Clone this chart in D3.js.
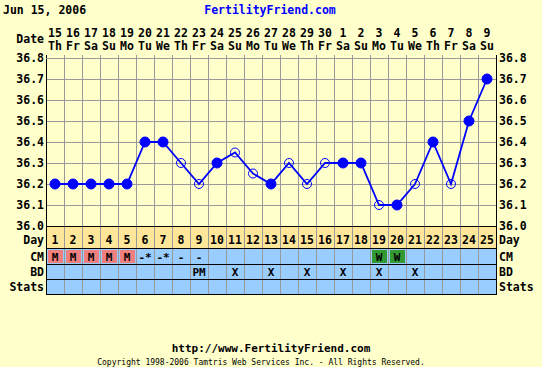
<!DOCTYPE html>
<html>
<head>
<meta charset="utf-8">
<script src="https://cdn.jsdelivr.net/npm/d3@7"></script>
<style>
  body { margin: 0; background: #ffffcc; }
  svg { display: block; }
  text { font-family: "DejaVu Sans Mono", monospace; font-weight: bold; fill: #000; }
</style>
</head>
<body>
<svg id="chart" width="542" height="367"></svg>
<script>
// chart data
var cycleDays = d3.range(1, 26);
var dateNums = [15,16,17,18,19,20,21,22,23,24,25,26,27,28,29,30,1,2,3,4,5,6,7,8,9];
var weekdays = ["Th","Fr","Sa","Su","Mo","Tu","We","Th","Fr","Sa","Su","Mo","Tu","We","Th","Fr","Sa","Su","Mo","Tu","We","Th","Fr","Sa","Su"];
var temps = [36.2,36.2,36.2,36.2,36.2,36.4,36.4,36.3,36.2,36.3,36.35,36.25,36.2,36.3,36.2,36.3,36.3,36.3,36.1,36.1,36.2,36.4,36.2,36.5,36.7];
var filled = [1,1,1,1,1,1,1,0,0,1,0,0,1,0,0,0,1,1,0,1,0,1,0,1,1];
var cmMarks = ["M","M","M","M","M","-*","-*","-","-","","","","","","","","","","W","W","","","","",""];
var bdMarks = ["","","","","","","","","PM","","X","","X","","X","","X","","X","","X","","","",""];
var tempTicks = [36.0,36.1,36.2,36.3,36.4,36.5,36.6,36.7,36.8];

var svg = d3.select("#chart");
var plotLeft = 46, plotRight = 496, plotTop = 58, tBottom = 226;
var rows = [
  {name: "Day", y0: 226, y1: 248, fill: "#ffe699"},
  {name: "CM", y0: 248, y1: 264, fill: "#99ccff"},
  {name: "BD", y0: 264, y1: 279, fill: "#99ccff"},
  {name: "Stats", y0: 279, y1: 294, fill: "#99ccff"}
];

var x = d3.scaleBand().domain(cycleDays).range([plotLeft, plotRight]);
var y = d3.scaleLinear().domain([36.0, 36.8]).range([tBottom, plotTop]);
var cx = function(d) { return x(d) + x.bandwidth() / 2; };

// header
svg.append("text").attr("x", 3).attr("y", 14).style("font-size", "11.5px").text("Jun 15, 2006");
svg.append("text").attr("x", 270).attr("y", 14).attr("text-anchor", "middle")
  .style("font-size", "11.5px").style("fill", "#0000ff").text("FertilityFriend.com");

// date row
svg.append("text").attr("x", 44).attr("y", 43).attr("text-anchor", "end").style("font-size", "11.5px").text("Date");
svg.selectAll(".dnum").data(cycleDays).enter().append("text")
  .attr("x", cx).attr("y", 37).attr("text-anchor", "middle").style("font-size", "11.5px")
  .text(function(d, i) { return dateNums[i]; });
svg.selectAll(".wday").data(cycleDays).enter().append("text")
  .attr("x", cx).attr("y", 50).attr("text-anchor", "middle").style("font-size", "11.5px")
  .text(function(d, i) { return weekdays[i]; });

// plot background + grid
svg.append("rect").attr("x", plotLeft).attr("y", plotTop).attr("width", plotRight - plotLeft).attr("height", tBottom - plotTop).attr("fill", "#ffffcc");
rows.forEach(function(r) {
  svg.append("rect").attr("x", plotLeft).attr("y", r.y0).attr("width", plotRight - plotLeft).attr("height", r.y1 - r.y0).attr("fill", r.fill);
});

var grid = svg.append("g").attr("stroke", "#999").attr("stroke-width", 1);
grid.selectAll(".v").data(cycleDays.slice(1)).enter().append("line")
  .attr("x1", function(d) { return x(d) + 0.5; }).attr("x2", function(d) { return x(d) + 0.5; })
  .attr("y1", plotTop - 3).attr("y2", 294);
grid.selectAll(".h").data(tempTicks.slice(1)).enter().append("line")
  .attr("x1", plotLeft).attr("x2", plotRight)
  .attr("y1", function(d) { return y(d) + 0.5; }).attr("y2", function(d) { return y(d) + 0.5; });

// pink/green CM boxes
svg.selectAll(".cmbox").data(cycleDays.filter(function(d, i) { return cmMarks[i] == "M" || cmMarks[i] == "W"; }))
  .enter().append("rect")
  .attr("x", function(d) { return x(d) + 2; }).attr("y", 250)
  .attr("width", x.bandwidth() - 3).attr("height", 13)
  .attr("fill", function(d) { return cmMarks[d - 1] == "M" ? "#f08080" : "#339933"; });

// black borders
var bl = svg.append("g").attr("stroke", "#000").attr("stroke-width", 1);
[tBottom, 248, 264, 279, 294].forEach(function(yy) {
  bl.append("line").attr("x1", plotLeft).attr("x2", plotRight + 1).attr("y1", yy + 0.5).attr("y2", yy + 0.5);
});
[plotLeft, plotRight].forEach(function(xx) {
  bl.append("line").attr("x1", xx + 0.5).attr("x2", xx + 0.5).attr("y1", plotTop - 3).attr("y2", 295);
});
svg.append("line").attr("x1", plotLeft).attr("x2", plotRight).attr("y1", plotTop + 0.5).attr("y2", plotTop + 0.5).attr("stroke", "#999");

// temperature labels both sides
svg.append("g").attr("transform", "translate(" + (plotLeft - 2) + ",0)")
  .call(d3.axisLeft(y).tickValues(tempTicks).tickFormat(d3.format(".1f")).tickSize(0).tickPadding(0))
  .call(function(g) { g.select(".domain").remove(); g.selectAll("text").style("font-size", "11.5px").attr("fill", "#000").attr("dy", "0.3em"); });
svg.append("g").attr("transform", "translate(" + (plotRight + 3) + ",0)")
  .call(d3.axisRight(y).tickValues(tempTicks).tickFormat(d3.format(".1f")).tickSize(0).tickPadding(0))
  .call(function(g) { g.select(".domain").remove(); g.selectAll("text").style("font-size", "11.5px").attr("fill", "#000").attr("dy", "0.3em"); });

// row labels
var baselines = {Day: 244, CM: 261, BD: 276, Stats: 291};
rows.forEach(function(r) {
  svg.append("text").attr("x", 44).attr("y", baselines[r.name]).attr("text-anchor", "end").style("font-size", "11.5px").text(r.name);
  svg.append("text").attr("x", 499).attr("y", baselines[r.name]).style("font-size", "11.5px").text(r.name);
});

// cycle day numbers
svg.selectAll(".cday").data(cycleDays).enter().append("text")
  .attr("x", cx).attr("y", 244).attr("text-anchor", "middle").style("font-size", "11.5px")
  .text(function(d) { return d; });
svg.selectAll(".cm").data(cycleDays).enter().append("text")
  .attr("x", cx).attr("y", 261).attr("text-anchor", "middle").style("font-size", "11px")
  .text(function(d, i) { return cmMarks[i]; });
svg.selectAll(".bd").data(cycleDays).enter().append("text")
  .attr("x", cx).attr("y", 276).attr("text-anchor", "middle").style("font-size", "11px")
  .text(function(d, i) { return bdMarks[i]; });

// temperature line
var line = d3.line().x(function(d) { return cx(d); }).y(function(d) { return y(temps[d - 1]); });
svg.append("path").datum(cycleDays).attr("d", line)
  .attr("fill", "none").attr("stroke", "#0000ff").attr("stroke-width", 1.8);
svg.selectAll(".pt").data(cycleDays).enter().append("circle")
  .attr("cx", cx).attr("cy", function(d) { return y(temps[d - 1]); })
  .attr("r", function(d) { return filled[d - 1] ? 5 : 4.5; })
  .attr("fill", function(d) { return filled[d - 1] ? "#0000ff" : "none"; })
  .attr("stroke", "#0000ff").attr("stroke-width", 1);

// footer
svg.append("text").attr("x", 271).attr("y", 352).attr("text-anchor", "middle").style("font-size", "11px")
  .text("http://www.FertilityFriend.com");
svg.append("text").attr("x", 261).attr("y", 365).attr("text-anchor", "middle").style("font-size", "8px").style("font-weight", "normal")
  .text("Copyright 1998-2006 Tamtris Web Services Inc. - All Rights Reserved.");
</script>
</body>
</html>
